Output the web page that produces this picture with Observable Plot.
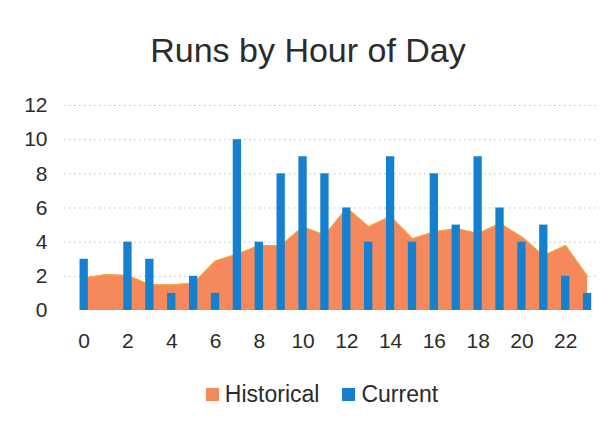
<!DOCTYPE html>
<html>
<head>
<meta charset="utf-8">
<script src="https://cdn.jsdelivr.net/npm/d3@7"></script>
<script src="https://cdn.jsdelivr.net/npm/@observablehq/plot@0.6"></script>
<style>
  html, body { margin: 0; padding: 0; background: #fff; }
  body { width: 614px; height: 434px; overflow: hidden; font-family: "Liberation Sans", Arial, sans-serif; }
  #title { height: 85px; box-sizing: border-box; padding-top: 31px; text-align: center; font-size: 34px; color: #2b2b2b; line-height: 38px; margin-left: 2px; }
  #chart { height: 270px; }
  #legend { display: flex; justify-content: center; align-items: center; gap: 23px; font-size: 23px; line-height: 26px; color: #2b2b2b; margin-top: 26px; margin-left: 30px; }
  .sw { display: inline-block; width: 13px; height: 13px; margin-right: 6px; }
  .item { display: flex; align-items: center; }
</style>
</head>
<body>
<div id="title">Runs by Hour of Day</div>
<div id="chart"></div>
<div id="legend"></div>
<script>
const hours = [0,1,2,3,4,5,6,7,8,9,10,11,12,13,14,15,16,17,18,19,20,21,22,23];
const historical = [1.9,2.1,2.05,1.5,1.5,1.6,2.9,3.3,3.8,3.8,4.9,4.4,6.0,4.9,5.5,4.2,4.6,4.8,4.5,5.1,4.3,3.2,3.8,2.0];
const current = [3,0,4,3,1,2,1,10,4,8,9,8,6,4,9,4,8,5,9,6,4,5,2,1];
const yTicks = [0,2,4,6,8,10,12];
const xTicks = [0,2,4,6,8,10,12,14,16,18,20,22];
const seriesNames = ["Historical", "Current"];
const seriesColors = ["#F5895C", "#1581CE"];

const data = hours.map((h, i) => ({hour: h, historical: historical[i], current: current[i]}));
const barHalf = 0.19;

const chart = Plot.plot({
  width: 614,
  height: 270,
  marginLeft: 64,
  marginRight: 16,
  marginTop: 20,
  marginBottom: 45,
  style: {fontFamily: "'Liberation Sans', Arial, sans-serif", fontSize: "21px", color: "#2b2b2b", background: "transparent"},
  x: {domain: [-0.9, 23.5], label: null},
  y: {domain: [0, 12], label: null},
  marks: [
    Plot.gridY(yTicks.filter(t => t > 0), {stroke: "#888", strokeOpacity: 0.55, strokeDasharray: "1.5,3.5"}),
    Plot.areaY(data, {x: "hour", y: "historical", fill: seriesColors[0], fillOpacity: 1}),
    Plot.lineY(data, {x: "hour", y: "historical", stroke: "#F3A23A", strokeWidth: 1.2}),
    Plot.rectY(data.filter(d => d.current > 0), {x1: d => d.hour - barHalf, x2: d => d.hour + barHalf, y: "current", fill: seriesColors[1]}),
    Plot.axisX({ticks: xTicks, tickSize: 0, tickPadding: 23, tickFormat: d => String(d)}),
    Plot.axisY({ticks: yTicks, tickSize: 0, tickPadding: 17})
  ]
});
document.getElementById("chart").appendChild(chart);

const legend = document.getElementById("legend");
seriesNames.forEach((name, i) => {
  const item = document.createElement("span");
  item.className = "item";
  const sw = document.createElement("span");
  sw.className = "sw";
  sw.style.background = seriesColors[i];
  item.appendChild(sw);
  item.appendChild(document.createTextNode(name));
  legend.appendChild(item);
});
</script>
</body>
</html>
